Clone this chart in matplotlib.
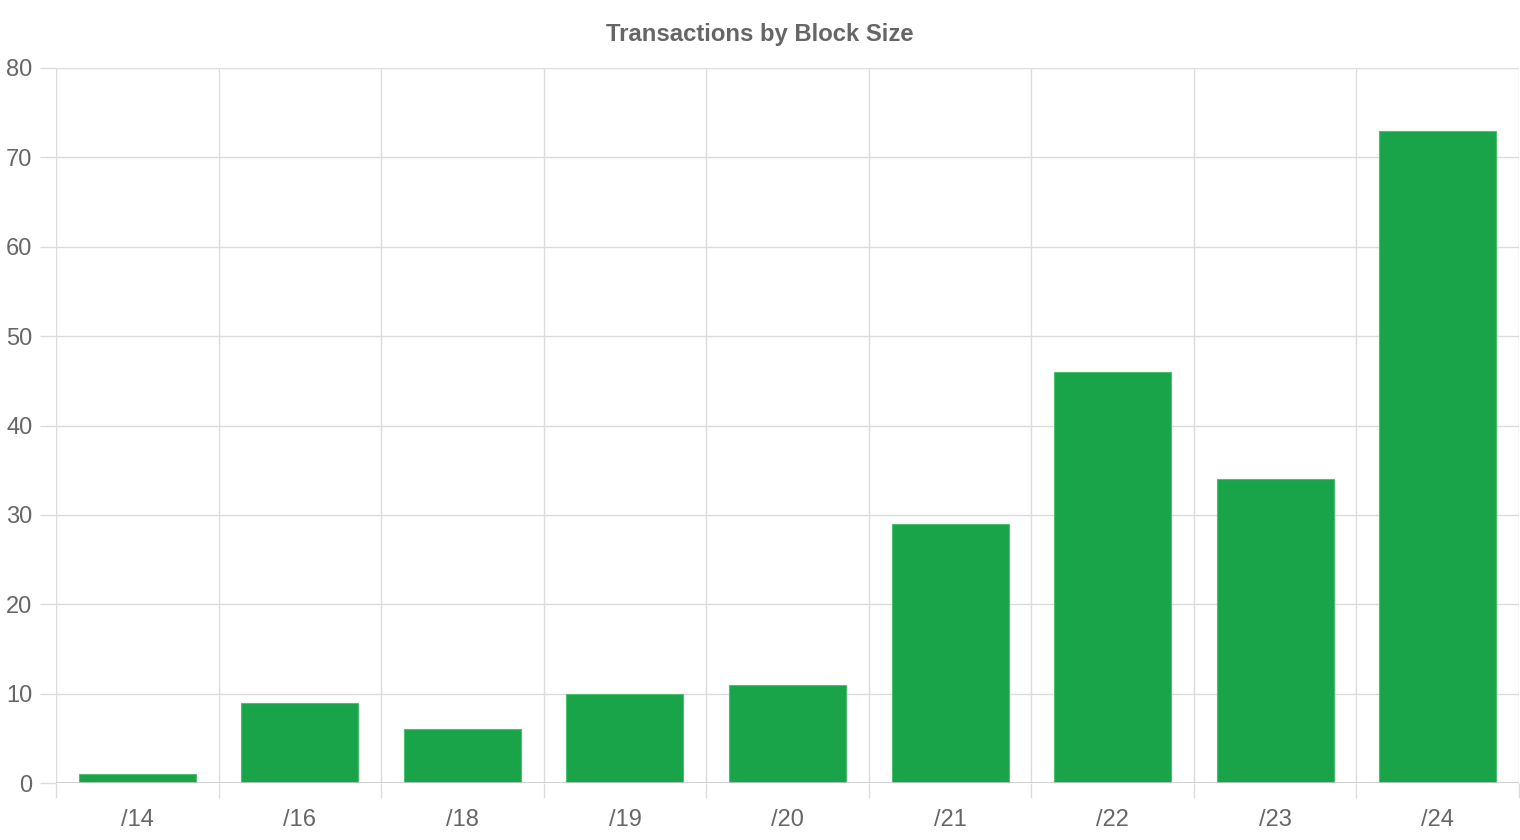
import numpy as np
import matplotlib.pyplot as plt
from matplotlib.ticker import MultipleLocator, FixedLocator

plt.rcParams['font.family'] = ['Liberation Sans', 'DejaVu Sans']

# data
block_sizes = ['/14', '/16', '/18', '/19', '/20', '/21', '/22', '/23', '/24']
transactions = [1, 9, 6, 10, 11, 29, 46, 34, 73]

bar_color = '#19a44a'
grid_color = '#dcdcdc'
text_color = '#666666'

fig = plt.figure(figsize=(15.2, 8.4), dpi=100)
ax = fig.add_axes([56 / 1520, 1 - 783 / 840, 1 - 57 / 1520, (783 - 68) / 840])

x = np.arange(len(block_sizes))
ax.bar(x, transactions, width=0.72, color=bar_color, edgecolor='#4cbf6f',
       linewidth=0.8, zorder=3)

ax.set_xlim(-0.5, len(block_sizes) - 0.5)
ax.set_ylim(0, 80)

# y axis (tick lengths in points: 16px ~ 11.5pt)
ax.yaxis.set_major_locator(MultipleLocator(10))
ax.tick_params(axis='y', length=11.5, color=grid_color, width=1,
               labelsize=17, labelcolor=text_color, pad=5.5)
ax.grid(axis='y', color=grid_color, linewidth=1, zorder=0)

# x axis: labels at centres, grid lines at category edges
ax.set_xticks(x)
ax.set_xticklabels(block_sizes)
ax.tick_params(axis='x', which='major', length=0, labelsize=17,
               labelcolor=text_color, pad=19)
ax.xaxis.set_minor_locator(FixedLocator(np.arange(-0.5, len(block_sizes), 1.0)))
ax.tick_params(axis='x', which='minor', length=10.8, color=grid_color, width=1)
ax.grid(axis='x', which='minor', color=grid_color, linewidth=1, zorder=0)

for s in ['top', 'right', 'bottom', 'left']:
    ax.spines[s].set_visible(False)
ax.axhline(0, color='#c8c8c8', linewidth=1.2, zorder=4)

fig.text(0.5, 1 - 34 / 840, 'Transactions by Block Size', ha='center', va='center',
         fontsize=17.2, fontweight='bold', color=text_color)

fig.savefig('out.png', dpi=100)
